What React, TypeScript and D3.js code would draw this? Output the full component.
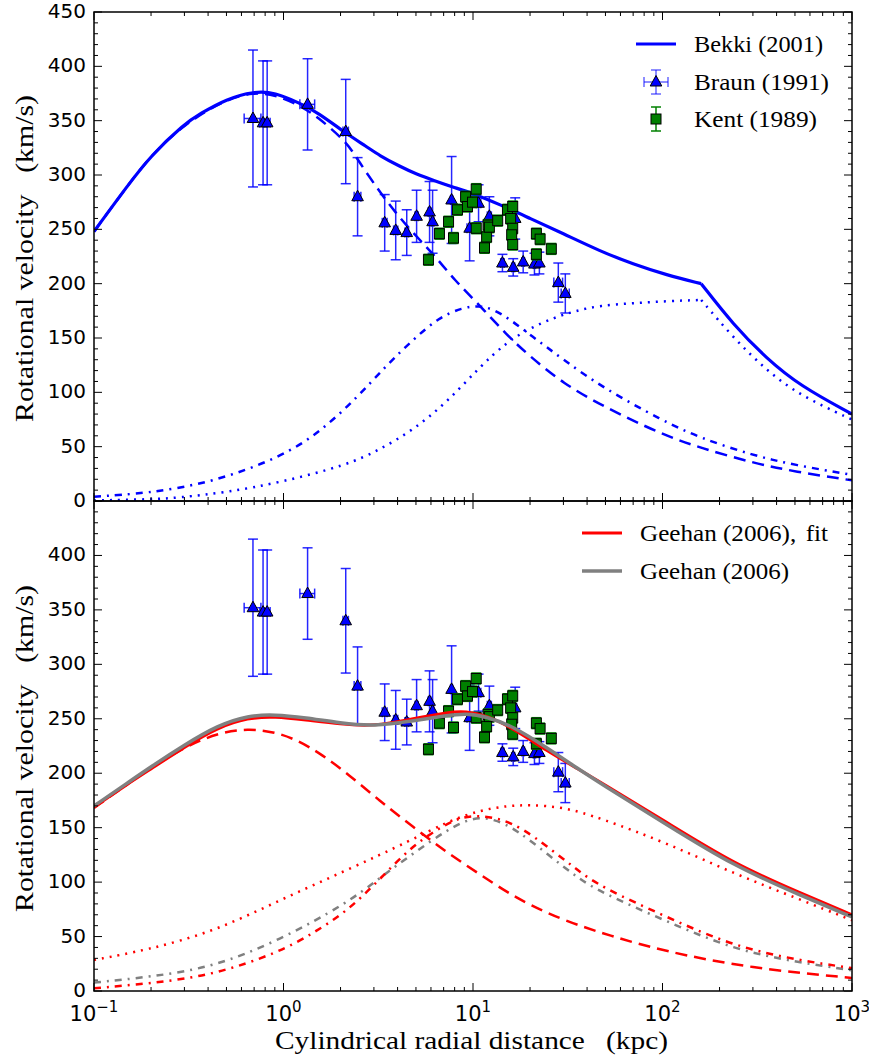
import React from 'react';
import * as d3 from 'd3';

// ---------- data (r in kpc, v in km/s) ----------
const bekkiTotal: [number, number][] = [
  [0.1, 248], [0.15, 290], [0.2, 318], [0.3, 347], [0.36, 356], [0.5, 370], [0.7, 377], [0.9, 376],
  [1.22, 366], [1.5, 358], [2.15, 338], [2.75, 326], [3.2, 318], [4.1, 308], [5, 301], [6.2, 295], [7.8, 289],
  [10, 283], [13.8, 273], [20, 260], [30, 246], [46.7, 230], [70, 218], [105, 208], [160, 200],
  [237, 162], [355, 131], [532, 106], [1000, 80],
];
const bekkiBulge: [number, number][] = [
  [0.1, 248], [0.15, 290], [0.2, 318], [0.3, 347], [0.5, 370], [0.7, 376], [0.9, 374], [1.22, 364],
  [1.5, 354], [2.17, 330], [2.46, 314], [3.35, 280], [4.5, 252], [6.14, 228], [8, 203], [11, 179],
  [15, 153], [20, 133], [30, 108], [48.7, 87], [100, 61], [158, 49], [300, 35], [500, 27], [1000, 19],
];
const bekkiDisk: [number, number][] = [
  [0.1, 4], [0.19, 7], [0.42, 17], [0.96, 40], [1.55, 63], [2.44, 95], [3.5, 125], [4.8, 148],
  [6.6, 169], [8.8, 178], [10.8, 180], [13, 176], [16, 166], [20, 153], [30, 130], [48.7, 104],
  [100, 74], [158, 58], [300, 42], [500, 33], [1000, 24],
];
const bekkiHalo: [number, number][] = [
  [0.1, 0.5], [0.2, 1.5], [0.28, 3], [0.5, 8], [0.96, 17], [2.16, 33], [3.2, 47], [4.8, 65],
  [7.2, 90], [10.8, 123], [15, 146], [20, 159], [27, 169], [35, 175], [46.7, 180], [70, 182],
  [105, 184], [160, 185], [237, 150], [355, 120], [532, 97], [1000, 75],
];

const geehanFitTotal: [number, number][] = [
  [0.1, 169], [0.15, 190], [0.2, 204], [0.3, 224], [0.45, 242], [0.65, 251], [0.9, 252], [1.3, 249],
  [2, 245], [3, 243], [4.8, 250], [7.3, 256], [9.2, 257], [11.8, 253], [16.3, 241], [24.3, 221],
  [36.6, 203], [46.7, 192], [105, 155], [237, 117], [532, 90], [1000, 70],
];
const geehanTotal: [number, number][] = [
  [0.1, 170], [0.15, 191], [0.2, 206], [0.3, 226], [0.45, 244], [0.65, 253], [0.9, 254], [1.3, 251],
  [2, 246], [3, 243], [4.8, 248], [7.3, 253], [9.2, 255], [11.8, 252], [16.3, 243], [24.3, 224],
  [36.6, 203], [46.7, 191], [105, 153], [237, 115], [532, 88], [1000, 68],
];
const geehanFitBulge: [number, number][] = [
  [0.1, 168], [0.15, 190], [0.2, 205], [0.3, 224], [0.45, 237], [0.65, 241], [0.9, 238], [1.2, 230],
  [1.6, 217], [2.2, 199], [3.2, 175], [4.8, 151], [7.3, 127], [10.9, 107], [15, 91], [20, 79],
  [30, 65], [52, 51], [105, 36], [290, 21], [1000, 12],
];
const geehanFitHalo: [number, number][] = [
  [0.1, 28.5], [0.19, 37.6], [0.43, 54.5], [0.96, 83.6], [2.16, 111], [4.8, 139], [7.3, 155.5],
  [10.9, 166], [15, 170], [20, 171], [30, 169], [46.7, 159], [105, 136], [237, 108], [532, 84], [1000, 65],
];
const geehanFitDisk: [number, number][] = [
  [0.1, 2.5], [0.2, 7], [0.43, 14.7], [0.96, 36], [1.43, 53], [2.16, 73], [3.2, 102], [4.8, 134],
  [7.3, 154], [8.9, 160], [11, 161], [14, 158], [18, 150], [25, 132], [35, 112], [46.7, 96],
  [105, 68], [237, 41], [532, 28], [1000, 21],
];
const geehanDisk: [number, number][] = [
  [0.1, 7.7], [0.2, 13], [0.43, 22], [0.96, 47], [2.16, 80.5], [3.2, 103.5], [4.8, 126], [7.3, 148],
  [10, 160], [13, 158], [17, 148], [25, 125], [35, 105], [46.7, 91], [105, 64], [237, 38], [532, 26], [1000, 19],
];

// Braun (1991): r, v, v error, r error
const braunR = [0.69, 0.78, 0.82, 1.34, 2.13, 2.46, 3.42, 3.91, 4.47, 5.04, 5.9, 6.12, 7.71, 9.6, 10.7, 12.2, 14.3, 16.3, 16.7, 18.4, 21.1, 22.4, 28.2, 30.7];
const braunV = [352, 348, 348, 365, 340, 280, 256, 249, 247, 262, 266, 257, 277, 251, 274, 262, 219, 215, 260, 220, 218, 219, 201, 191];
const braunVErr = [63, 57, 57, 42, 48, 36, 26, 27, 21, 24, 28, 29, 40, 30, 17, 18, 8, 8, 19, 10, 10, 10, 18, 18];
const braunRErr = [0.07, 0.03, 0.03, 0.12, 0.07, 0.1, 0.1, 0.1, 0.1, 0.1, 0.1, 0.1, 0.1, 0.3, 0.3, 0.3, 0.3, 0.3, 0.3, 0.3, 0.3, 0.3, 1.5, 1.5];

// Kent (1989): r, v
const kentR = [5.82, 6.65, 7.43, 7.89, 8.28, 9.14, 9.35, 9.94, 10.4, 10.4, 11.5, 11.8, 12.0, 12.2, 13.5, 15.2, 15.8, 16.2, 16.0, 16.2, 16.2, 21.6, 22.6, 21.6, 25.9];
const kentV = [222, 246, 257, 242, 268, 280, 271, 275, 287, 251, 233, 243, 254, 252, 258, 268, 260, 251, 245, 236, 271, 246, 241, 227, 232];
const kentVErr = 5;

const yTicks = [0, 50, 100, 150, 200, 250, 300, 350, 400, 450];
const xDecades = [0.1, 1, 10, 100, 1000];
const xTickExp = ['\u22121', '0', '1', '2', '3'];

// ---------- layout ----------
const W = 869, H = 1059;
const X0 = 94, X1 = 852;
const xS = d3.scaleLog().domain([0.1, 1000]).range([X0, X1]);
const yTop = d3.scaleLinear().domain([0, 450]).range([501, 12]);
const yBot = d3.scaleLinear().domain([0, 450]).range([991, 501]);

const BLUE = '#0000ff', RED = '#ff0000', GRAY = '#808080', GREEN = '#008000';
const DASHED = '12,7', DASHDOT = '7,6,2,6', DOTTED = '2,6';
const SANS = 'DejaVu Sans', SERIF = 'Liberation Serif';

function curvePath(data: [number, number][], ys: d3.ScaleLinear<number, number>, kink?: number) {
  const gen = d3.line<[number, number]>().x(d => xS(d[0])).y(d => ys(d[1])).curve(d3.curveBasis);
  if (kink === undefined) return gen(data) || '';
  const a = data.filter(d => d[0] <= kink);
  const b = data.filter(d => d[0] >= kink);
  return (gen(a) || '') + (gen(b) || '');
}

function Ticks({ ys, top, bottom, labelMax }: { ys: d3.ScaleLinear<number, number>; top: number; bottom: number; labelMax: number }) {
  const els: JSX.Element[] = [];
  for (let v = 0; v <= 450; v += 10) {
    const major = v % 50 === 0;
    const len = major ? 8 : 4;
    const y = ys(v);
    els.push(<line key={'yl' + v} x1={X0} x2={X0 + len} y1={y} y2={y} stroke="#000" strokeWidth={1} />);
    els.push(<line key={'yr' + v} x1={X1} x2={X1 - len} y1={y} y2={y} stroke="#000" strokeWidth={1} />);
  }
  for (let e = -1; e < 3; e++) {
    for (let m = 2; m <= 9; m++) {
      const v = m * Math.pow(10, e);
      const x = xS(v);
      els.push(<line key={'xb' + v} x1={x} x2={x} y1={bottom} y2={bottom - 4} stroke="#000" strokeWidth={1} />);
      els.push(<line key={'xt' + v} x1={x} x2={x} y1={top} y2={top + 4} stroke="#000" strokeWidth={1} />);
    }
  }
  xDecades.forEach(v => {
    const x = xS(v);
    els.push(<line key={'XB' + v} x1={x} x2={x} y1={bottom} y2={bottom - 8} stroke="#000" strokeWidth={1} />);
    els.push(<line key={'XT' + v} x1={x} x2={x} y1={top} y2={top + 8} stroke="#000" strokeWidth={1} />);
  });
  yTicks.filter(v => v <= labelMax).forEach(v => {
    els.push(
      <text key={'lab' + v} x={X0 - 8} y={ys(v) + 6} textAnchor="end" fontFamily={SANS} fontSize={20}>{v}</text>
    );
  });
  return <g>{els}</g>;
}

function Braun({ ys }: { ys: d3.ScaleLinear<number, number> }) {
  return (
    <g>
      {braunR.map((r, i) => {
        const x = xS(r), y = ys(braunV[i]);
        const yt = ys(braunV[i] + braunVErr[i]), yb = ys(braunV[i] - braunVErr[i]);
        const xl = xS(r - braunRErr[i]), xr = xS(r + braunRErr[i]);
        return (
          <g key={i} stroke={BLUE} strokeWidth={1.5} strokeOpacity={0.85}>
            <line x1={x} x2={x} y1={yt} y2={yb} />
            <line x1={x - 5} x2={x + 5} y1={yt} y2={yt} />
            <line x1={x - 5} x2={x + 5} y1={yb} y2={yb} />
            <line x1={xl} x2={xr} y1={y} y2={y} />
            <line x1={xl} x2={xl} y1={y - 5} y2={y + 5} />
            <line x1={xr} x2={xr} y1={y - 5} y2={y + 5} />
          </g>
        );
      })}
      {braunR.map((r, i) => {
        const x = xS(r), y = ys(braunV[i]);
        return <path key={'m' + i} d={`M${x},${y - 6.5}L${x + 5.8},${y + 4}L${x - 5.8},${y + 4}Z`} fill={BLUE} stroke="#000" strokeWidth={1} />;
      })}
    </g>
  );
}

function Kent({ ys }: { ys: d3.ScaleLinear<number, number> }) {
  return (
    <g>
      {kentR.map((r, i) => {
        const x = xS(r), yt = ys(kentV[i] + kentVErr), yb = ys(kentV[i] - kentVErr);
        return (
          <g key={i} stroke={GREEN} strokeWidth={1.5}>
            <line x1={x} x2={x} y1={yt} y2={yb} />
            <line x1={x - 5} x2={x + 5} y1={yt} y2={yt} />
            <line x1={x - 5} x2={x + 5} y1={yb} y2={yb} />
          </g>
        );
      })}
      {kentR.map((r, i) => {
        const x = xS(r), y = ys(kentV[i]);
        return <rect key={'s' + i} x={x - 5} y={y - 5} width={10} height={10} fill={GREEN} stroke="#000" strokeWidth={1} />;
      })}
    </g>
  );
}

export default function App() {
  return (
    <svg width={W} height={H} style={{ position: 'absolute', left: 0, top: 0, background: '#fff' }}>
      <rect x={0} y={0} width={W} height={H} fill="#fff" />
      <defs>
        <clipPath id="clipTop"><rect x={X0} y={12} width={X1 - X0} height={489} /></clipPath>
        <clipPath id="clipBot"><rect x={X0} y={501} width={X1 - X0} height={490} /></clipPath>
      </defs>

      {/* top panel */}
      <g clipPath="url(#clipTop)" fill="none">
        <path d={curvePath(bekkiHalo, yTop, 160)} stroke={BLUE} strokeWidth={2.5} strokeDasharray={DOTTED} />
        <path d={curvePath(bekkiDisk, yTop)} stroke={BLUE} strokeWidth={2.5} strokeDasharray={DASHDOT} />
        <path d={curvePath(bekkiBulge, yTop)} stroke={BLUE} strokeWidth={2.5} strokeDasharray={DASHED} />
        <path d={curvePath(bekkiTotal, yTop, 160)} stroke={BLUE} strokeWidth={3.2} />
      </g>
      <g clipPath="url(#clipTop)">
        <Braun ys={yTop} />
        <Kent ys={yTop} />
      </g>

      {/* bottom panel */}
      <g clipPath="url(#clipBot)">
        <Braun ys={yBot} />
        <Kent ys={yBot} />
      </g>
      <g clipPath="url(#clipBot)" fill="none">
        <path d={curvePath(geehanFitHalo, yBot)} stroke={RED} strokeWidth={2.5} strokeDasharray={DOTTED} />
        <path d={curvePath(geehanDisk, yBot)} stroke={GRAY} strokeWidth={2.5} strokeDasharray={DASHDOT} />
        <path d={curvePath(geehanFitDisk, yBot)} stroke={RED} strokeWidth={2.5} strokeDasharray={DASHDOT} />
        <path d={curvePath(geehanFitBulge, yBot)} stroke={RED} strokeWidth={2.5} strokeDasharray={DASHED} />
        <path d={curvePath(geehanFitTotal, yBot)} stroke={RED} strokeWidth={3} />
        <path d={curvePath(geehanTotal, yBot)} stroke={GRAY} strokeWidth={3.5} />
      </g>

      {/* frames & ticks */}
      <Ticks ys={yTop} top={12} bottom={501} labelMax={450} />
      <Ticks ys={yBot} top={501} bottom={991} labelMax={400} />
      <rect x={X0} y={12} width={X1 - X0} height={489} fill="none" stroke="#000" strokeWidth={1.5} />
      <rect x={X0} y={501} width={X1 - X0} height={490} fill="none" stroke="#000" strokeWidth={1.5} />

      {/* x tick labels */}
      {xDecades.map((v, i) => (
        <text key={'xl' + v} x={xS(v)} y={1021} textAnchor="middle" fontFamily={SANS} fontSize={21}>
          10<tspan dy={-9} fontSize={15}>{xTickExp[i]}</tspan>
        </text>
      ))}

      {/* axis labels */}
      <text x={275} y={1049} fontFamily={SERIF} fontSize={25} textLength={393} lengthAdjust="spacingAndGlyphs">
        Cylindrical radial distance<tspan dx={18}>(kpc)</tspan>
      </text>
      <text transform="translate(33,422) rotate(-90)" fontFamily={SERIF} fontSize={25} textLength={327} lengthAdjust="spacingAndGlyphs">
        Rotational velocity<tspan dx={18}>(km/s)</tspan>
      </text>
      <text transform="translate(33,912) rotate(-90)" fontFamily={SERIF} fontSize={25} textLength={327} lengthAdjust="spacingAndGlyphs">
        Rotational velocity<tspan dx={18}>(km/s)</tspan>
      </text>

      {/* top legend */}
      <g fontFamily={SERIF} fontSize={24}>
        <line x1={636} x2={676} y1={44} y2={44} stroke={BLUE} strokeWidth={3.2} />
        <text x={694} y={52} textLength={129} lengthAdjust="spacingAndGlyphs">Bekki (2001)</text>

        <g stroke={BLUE} strokeWidth={1.5} strokeOpacity={0.6}>
          <line x1={644} x2={668} y1={82} y2={82} />
          <line x1={644} x2={644} y1={77} y2={87} />
          <line x1={668} x2={668} y1={77} y2={87} />
          <line x1={656} x2={656} y1={70} y2={94} />
          <line x1={651} x2={661} y1={70} y2={70} />
          <line x1={651} x2={661} y1={94} y2={94} />
        </g>
        <path d="M656,75.5L661.8,86L650.2,86Z" fill={BLUE} stroke="#000" strokeWidth={1} />
        <text x={694} y={90} textLength={135} lengthAdjust="spacingAndGlyphs">Braun (1991)</text>

        <g stroke={GREEN} strokeWidth={1.5}>
          <line x1={656} x2={656} y1={107} y2={131} />
          <line x1={651} x2={661} y1={107} y2={107} />
          <line x1={651} x2={661} y1={131} y2={131} />
        </g>
        <rect x={651} y={114} width={10} height={10} fill={GREEN} stroke="#000" strokeWidth={1} />
        <text x={694} y={127} textLength={123} lengthAdjust="spacingAndGlyphs">Kent (1989)</text>
      </g>

      {/* bottom legend */}
      <g fontFamily={SERIF} fontSize={24}>
        <line x1={582} x2={622} y1={533} y2={533} stroke={RED} strokeWidth={3} />
        <text x={640} y={541} textLength={188} lengthAdjust="spacingAndGlyphs">Geehan (2006),<tspan dx={9}>fit</tspan></text>
        <line x1={582} x2={622} y1={571} y2={571} stroke={GRAY} strokeWidth={3.5} />
        <text x={640} y={579} textLength={149} lengthAdjust="spacingAndGlyphs">Geehan (2006)</text>
      </g>
    </svg>
  );
}
